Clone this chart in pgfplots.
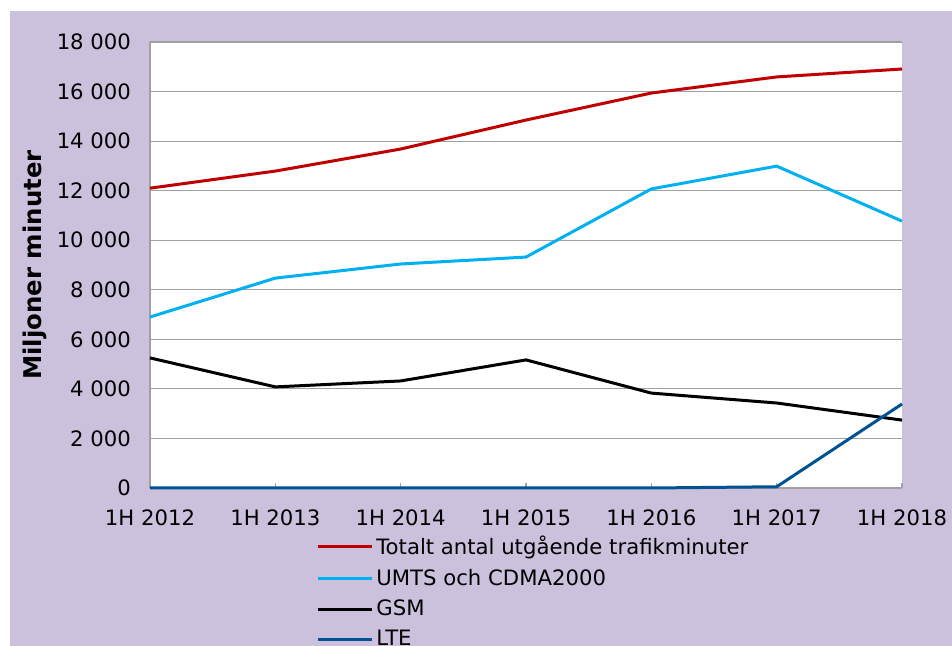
\documentclass[border=0pt]{standalone}
\usepackage{fontspec}
\setmainfont{DejaVu Sans}
\usepackage{pgfplots}
\pgfplotsset{compat=1.18}
\definecolor{lav}{RGB}{203,193,220}
\definecolor{totred}{RGB}{192,0,0}
\definecolor{umts}{RGB}{0,176,240}
\definecolor{lte}{RGB}{0,82,147}
\definecolor{gridgray}{RGB}{160,160,160}

% values in millions of minutes
\pgfplotstableread{
x tot   umts  gsm   lte
0 12100 6900  5250  0
1 12790 8470  4080  0
2 13680 9040  4320  0
3 14850 9320  5170  0
4 15940 12070 3830  0
5 16590 12990 3430  50
6 16910 10770 2740  3390
}\data

\begin{document}
\begin{tikzpicture}[font=\fontsize{10.6}{12}\selectfont]
\path[use as bounding box, clip] (0,0) rectangle (476pt,323pt);
\fill[white] (0,0) rectangle (476pt,323pt);
\fill[lav] (5pt,0) rectangle (476pt,317.5pt);
\begin{axis}[
  at={(75pt,79pt)}, anchor=south west,
  scale only axis, width=376pt, height=223pt,
  xmin=0, xmax=6, ymin=0, ymax=18000,
  scaled y ticks=false,
  xtick={0,...,6},
  xticklabels={1H 2012,1H 2013,1H 2014,1H 2015,1H 2016,1H 2017,1H 2018},
  ytick={0,2000,...,18000},
  yticklabels={0,2 000,4 000,6 000,8 000,10 000,12 000,14 000,16 000,18 000},
  axis x line*=bottom, axis y line*=left,
  axis line style={gridgray, line width=0.6pt, -},
  axis background/.style={fill=white},
  ymajorgrids, grid style={gridgray, line width=0.6pt},
  tick align=inside, major tick length=2.5pt,
  xtick style={gridgray, line width=0.6pt},
  ytick style={draw=none},
  yticklabel style={anchor=east, xshift=-6pt},
  xticklabel style={anchor=north, yshift=-7.5pt},
  ylabel={\fontsize{12.2}{14}\selectfont\bfseries Miljoner minuter},
  ylabel style={at={(axis description cs:-0.153,0.5)}, anchor=center},
  clip=false,
  legend cell align=left,
  legend style={at={(axis description cs:0.2207,-0.1),}, anchor=north west,
    draw=none, fill=none, inner sep=0pt, row sep=2.8pt,
    nodes={inner sep=1.5pt}},
  legend image code/.code={\draw[#1] (0pt,0pt) -- (27pt,0pt);},
  every axis plot/.append style={line width=1.5pt, no markers},
]
\addplot[totred] table[x=x, y=tot] {\data};
\addlegendentry{Totalt antal utgående trafikminuter}
\addplot[umts] table[x=x, y=umts] {\data};
\addlegendentry{UMTS och CDMA2000}
\addplot[black] table[x=x, y=gsm] {\data};
\addlegendentry{GSM}
\addplot[lte] table[x=x, y=lte] {\data};
\addlegendentry{LTE}
\end{axis}
\end{tikzpicture}
\end{document}
